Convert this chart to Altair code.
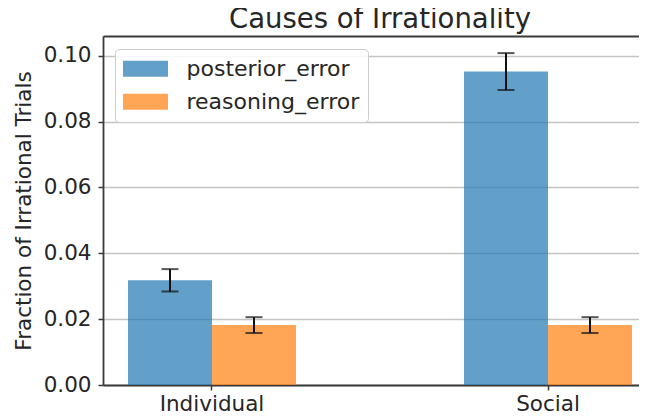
import altair as alt
import pandas as pd

groups = ["Individual", "Social"]
series = ["posterior_error", "reasoning_error"]
posterior_vals = [0.0318, 0.0952]
posterior_err = [0.0034, 0.0056]
reasoning_vals = [0.0182, 0.0182]
reasoning_err = [0.0024, 0.0024]
colors = ["#1f77b4", "#ff7f0e"]
y_ticks = [0.0, 0.02, 0.04, 0.06, 0.08, 0.10]

rows = []
for i, g in enumerate(groups):
    rows.append({"group": g, "series": series[0], "value": posterior_vals[i], "err": posterior_err[i]})
    rows.append({"group": g, "series": series[1], "value": reasoning_vals[i], "err": reasoning_err[i]})
df = pd.DataFrame(rows)
df["lo"] = df["value"] - df["err"]
df["hi"] = df["value"] + df["err"]

FONT = "DejaVu Sans"
TXT = "#262626"
AX = "#3a3a3a"

xscale = alt.Scale(domain=groups, range=[0, 554], paddingInner=0.5, paddingOuter=0.0744)
yscale = alt.Scale(domain=[0, 0.106], nice=False, zero=True)
xoff = alt.XOffset("series:N", scale=alt.Scale(domain=series, paddingInner=0, paddingOuter=0))

base = alt.Chart(df)

bars = base.mark_bar(opacity=0.7).encode(
    x=alt.X("group:N", scale=xscale, sort=groups,
            axis=alt.Axis(title=None, labelAngle=0, labelFontSize=21.5, labelColor=TXT,
                          labelFont=FONT, tickSize=5, tickColor=AX, tickWidth=1.5,
                          domainColor=AX, domainWidth=1.8, labelPadding=3, grid=False)),
    xOffset=xoff,
    y=alt.Y("value:Q", scale=yscale,
            axis=alt.Axis(title="Fraction of Irrational Trials", values=y_ticks, format=".2f",
                          labelFontSize=21.5, labelColor=TXT, labelFont=FONT,
                          titleFontSize=21.5, titleColor=TXT, titleFont=FONT, titleFontWeight="normal",
                          titlePadding=8, tickSize=5, tickColor=AX, tickWidth=1.5,
                          domainColor=AX, domainWidth=1.8, labelPadding=7,
                          grid=True, gridColor="#c4c4c4", gridWidth=1.5)),
    color=alt.Color("series:N", scale=alt.Scale(domain=series, range=colors),
                    legend=alt.Legend(title=None, orient="none", legendX=12, legendY=13,
                                      symbolType="M-2.045,-0.727L2.045,-0.727L2.045,0.727L-2.045,0.727Z",
                                      symbolSize=484, symbolStrokeWidth=0, symbolOpacity=0.7,
                                      symbolOffset=10.8,
                                      labelFontSize=22, labelFont=FONT, labelColor=TXT,
                                      labelLimit=400,
                                      labelOffset=30, padding=8.7, rowPadding=11,
                                      strokeColor="#cccccc", fillColor="rgba(255,255,255,0.85)",
                                      cornerRadius=4)),
)

err_rule = base.mark_rule(color="#111111", strokeWidth=2).encode(
    x=alt.X("group:N", scale=xscale, sort=groups, axis=None),
    xOffset=xoff,
    y=alt.Y("lo:Q", scale=yscale),
    y2="hi:Q",
)

caps_lo = base.mark_tick(color="#111111", size=17, thickness=2).encode(
    x=alt.X("group:N", scale=xscale, sort=groups, axis=None),
    xOffset=xoff,
    y=alt.Y("lo:Q", scale=yscale),
)
caps_hi = base.mark_tick(color="#111111", size=17, thickness=2).encode(
    x=alt.X("group:N", scale=xscale, sort=groups,
            axis=alt.Axis(orient="top", labels=False, ticks=False, title=None, grid=False,
                          domainColor=AX, domainWidth=1.8)),
    xOffset=xoff,
    y=alt.Y("hi:Q", scale=yscale),
)

chart = alt.layer(bars, err_rule, caps_lo, caps_hi).resolve_axis(x="independent").properties(
    width=536, height=349,
    autosize=alt.AutoSizeParams(type="none"),
    padding={"left": 95, "top": 28, "right": 0, "bottom": 33},
    title=alt.Title("Causes of Irrationality", fontSize=27.5, font=FONT, color=TXT,
                    fontWeight="normal", anchor="middle", dx=9, offset=2.5),
).configure_view(stroke=None).configure(background="white")

chart.save("out.html", embed_options={"renderer": "svg", "actions": False})
